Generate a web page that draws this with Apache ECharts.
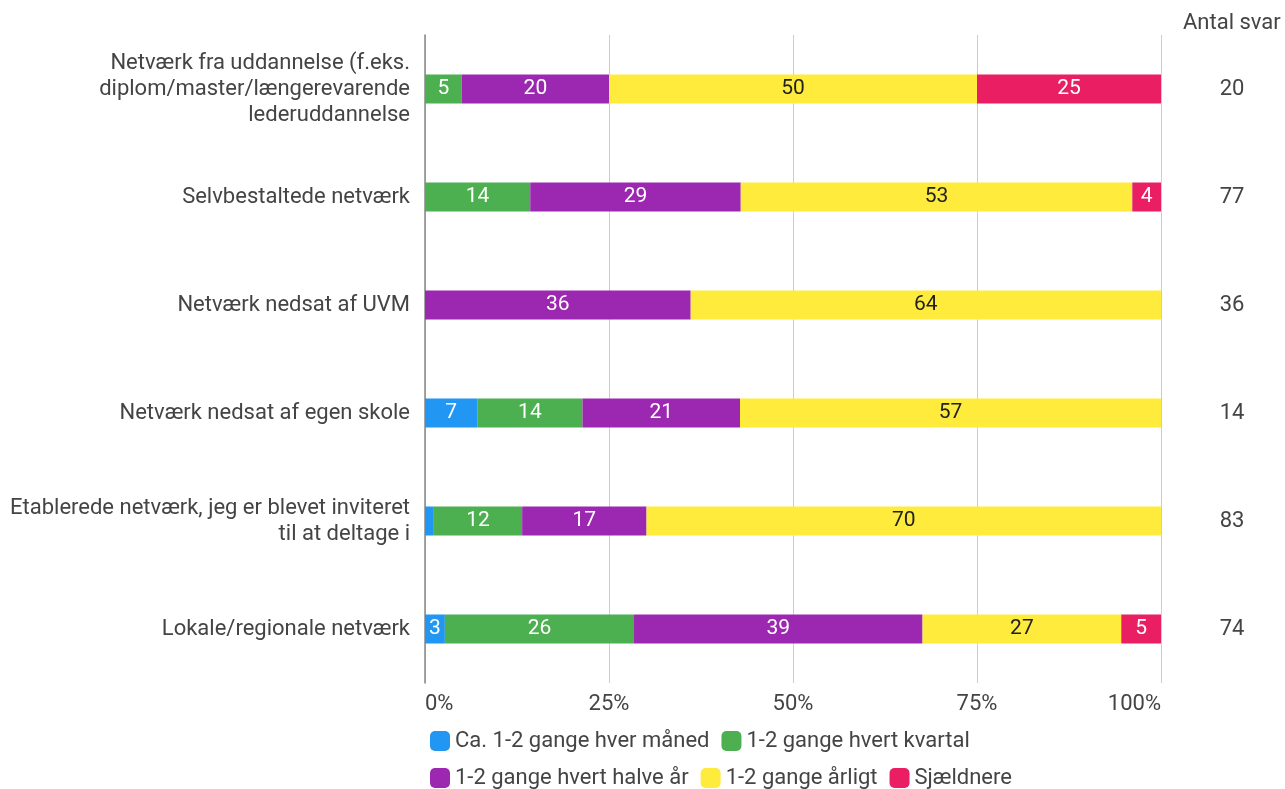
<!DOCTYPE html>
<html><head><meta charset="utf-8">
<script src="https://cdn.jsdelivr.net/npm/echarts@6/dist/echarts.min.js"></script>
<style>html,body{margin:0;padding:0;background:#fff}#c{width:1285px;height:789px}</style>
</head><body><div id="c"></div>
<script>
const categories = [
  'Netværk fra uddannelse (f.eks.\ndiplom/master/længerevarende\nlederuddannelse',
  'Selvbestaltede netværk',
  'Netværk nedsat af UVM',
  'Netværk nedsat af egen skole',
  'Etablerede netværk, jeg er blevet inviteret\ntil at deltage i',
  'Lokale/regionale netværk'
];
const counts = [20, 77, 36, 14, 83, 74];
const seriesNames = ['Ca. 1-2 gange hver måned', '1-2 gange hvert kvartal', '1-2 gange hvert halve år', '1-2 gange årligt', 'Sjældnere'];
const monthly   = [0,   0,    0,    7.1,  1.2,  2.7];
const quarterly = [5,   14.3, 0,    14.3, 12.0, 25.7];
const halfYear  = [20,  28.6, 36.1, 21.4, 16.9, 39.2];
const yearly    = [50,  53.2, 63.9, 57.2, 69.9, 27.0];
const rarely    = [25,  3.9,  0,    0,    0,    5.4];
const xTicks = [0, 25, 50, 75, 100];

const colors = ['#2196F3', '#4CAF50', '#9C27B0', '#FFEB3B', '#E91E63'];
const labelColors = ['#fff', '#fff', '#fff', '#212121', '#fff'];
const values = [monthly, quarterly, halfYear, yearly, rarely];
const font = 'Roboto, sans-serif';
const txt = '#444';

const chart = echarts.init(document.getElementById('c'));
chart.setOption({
  animation: false,
  textStyle: { fontFamily: font },
  title: {
    text: 'Antal svar', left: 1178, top: 7,
    textStyle: { fontFamily: font, fontWeight: 'normal', fontSize: 22, color: txt }
  },
  grid: { left: 425, right: 124, top: 35, bottom: 106 },
  xAxis: {
    type: 'value', min: 0, max: 100, interval: 25,
    axisLine: { show: false }, axisTick: { show: false },
    splitLine: { lineStyle: { color: '#cccccc' } },
    axisLabel: {
      formatter: v => xTicks.includes(v) ? v + '%' : '', fontSize: 22, color: txt, margin: 10, fontFamily: font,
      alignMinLabel: 'left', alignMaxLabel: 'right'
    }
  },
  yAxis: [{
    type: 'category', data: categories, inverse: true,
    axisLine: { lineStyle: { color: '#888', width: 1.5 } }, axisTick: { show: false },
    axisLabel: { fontSize: 22, color: txt, lineHeight: 26, margin: 15, align: 'right', fontFamily: font, padding: [3, 0, 0, 0] }
  }, {
    type: 'category', data: counts.map(String), inverse: true, position: 'right',
    axisLine: { show: false }, axisTick: { show: false },
    axisLabel: { fontSize: 22, color: txt, margin: 71, align: 'center', fontFamily: font, padding: [3, 0, 0, 0] }
  }],
  legend: [{
    data: seriesNames.slice(0, 2), left: 425, top: 725, itemWidth: 20, itemHeight: 20, itemGap: 12,
    icon: 'roundRect', textStyle: { fontSize: 22, color: txt, fontFamily: font }
  }, {
    data: seriesNames.slice(2), left: 425, top: 762, itemWidth: 20, itemHeight: 20, itemGap: 12,
    icon: 'roundRect', textStyle: { fontSize: 22, color: txt, fontFamily: font }
  }],
  series: seriesNames.map((name, i) => ({
    name, type: 'bar', stack: 'total', barWidth: 29,
    data: values[i],
    itemStyle: { color: colors[i] },
    label: {
      show: true, position: 'inside', fontSize: 21, color: labelColors[i], fontFamily: font, padding: [2, 0, 0, 0],
      formatter: p => p.value >= 2 ? String(Math.round(p.value)) : ''
    }
  }))
});
</script></body></html>
